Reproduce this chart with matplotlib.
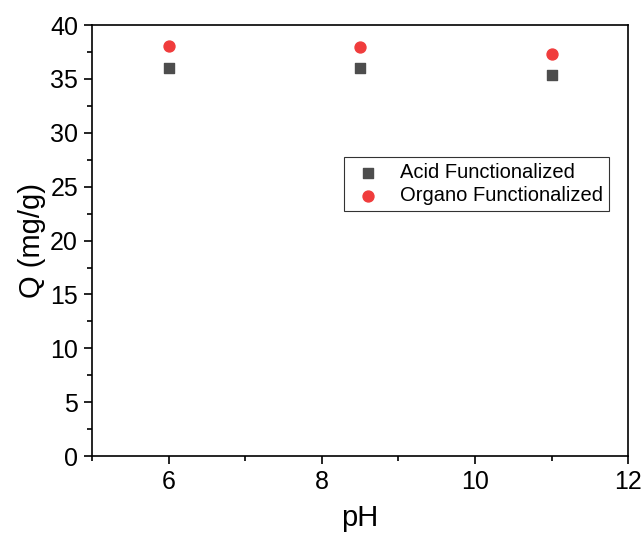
import matplotlib
matplotlib.use("Agg")
import matplotlib.pyplot as plt
from matplotlib.ticker import MultipleLocator

plt.rcParams["font.family"] = ["Liberation Sans", "DejaVu Sans"]

ph = [6, 8.5, 11]
acid_q = [36.0, 36.0, 35.4]
organo_q = [38.1, 37.95, 37.3]

fig = plt.figure(figsize=(6.43, 5.34), dpi=100)
ax = fig.add_axes([0.143, 0.146, 0.834, 0.807])

ax.scatter(ph, acid_q, marker="s", s=52, color="#4d4d4d", label="Acid Functionalized", zorder=3)
ax.scatter(ph, organo_q, marker="o", s=62, color="#f03c3c", label="Organo Functionalized", zorder=3)

ax.set_xlim(5, 12)
ax.set_ylim(0, 40)
ax.xaxis.set_major_locator(MultipleLocator(2))
ax.xaxis.set_minor_locator(MultipleLocator(1))
ax.yaxis.set_major_locator(MultipleLocator(5))
ax.yaxis.set_minor_locator(MultipleLocator(2.5))
ax.tick_params(which="major", direction="out", length=6, width=1.2, labelsize=18, pad=4)
ax.tick_params(which="minor", direction="out", length=3.5, width=1.2)
for sp in ax.spines.values():
    sp.set_linewidth(1.2)

ax.set_xlabel("pH", fontsize=21, labelpad=7)
ax.set_ylabel("Q (mg/g)", fontsize=21, labelpad=3)

leg = ax.legend(loc="upper left", bbox_to_anchor=(0.535, 0.706), bbox_transform=fig.transFigure,
                borderaxespad=0, fontsize=14.5, frameon=True, fancybox=False, edgecolor="black",
                handletextpad=0.7, handlelength=1.8, borderpad=0.3, labelspacing=0.2)
leg.get_frame().set_linewidth(0.8)

fig.savefig("out.png", dpi=100)
